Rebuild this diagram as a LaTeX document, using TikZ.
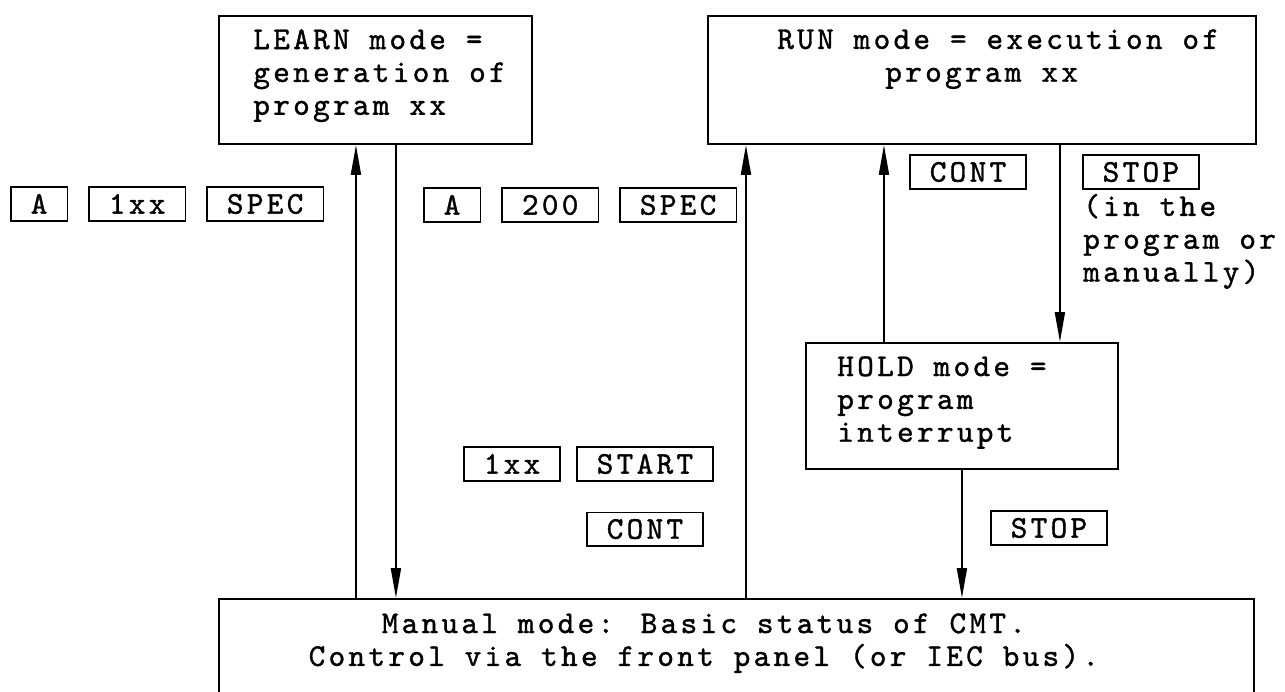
\documentclass[tikz,border=0pt]{standalone}
\usepackage{fontspec}
\newfontfamily\typefont{lmmono10-regular.otf}[FakeBold=1.2,LetterSpace=10.5]
\usetikzlibrary{arrows.meta,positioning}
\begin{document}
\begin{tikzpicture}[
  x=0.02cm, y=-0.02cm,
  font={\typefont\fontsize{18pt}{18.7pt}\selectfont},
  node distance=0.4cm,
  mbox/.style = {draw, line width=1.1pt, anchor=north west, inner sep=0pt},
  key/.style  = {draw, line width=0.9pt, minimum height=0.67cm,
                 inner xsep=0.4cm, inner ysep=0pt,
                 text height=11pt, text depth=0pt},
  txt/.style  = {inner sep=0pt, align=left},
  arr/.style  = {-{Triangle[length=0.6cm,width=0.2cm]}, line width=1.1pt}
]
\useasboundingbox (0,0) rectangle (1285,691);
\clip (0,0) rectangle (1285,691);
%% -- Mode boxes --
\node[mbox, minimum width=6.26cm, minimum height=2.56cm]  (learn) at (218,15)  {};
\node[mbox, minimum width=10.96cm, minimum height=2.56cm] (run)   at (707,15)  {};
\node[mbox, minimum width=6.24cm, minimum height=2.52cm]  (hold)  at (805,342) {};
\node[mbox, minimum width=20.7cm, minimum height=3.6cm]   (man)   at (218,598) {};
%% -- Box texts --
\node[txt, below right=0.28cm and 0.7cm of learn.north west] (lrntxt)
  {LEARN mode =\\generation of\\program xx};
\node[txt, below right=0.28cm and 1.4cm of run.north west] (runtxt)
  {RUN mode = execution of\\\hspace*{2.16cm}program xx};
\node[txt, below right=0.28cm and 0.64cm of hold.north west] (holdtxt)
  {HOLD mode =\\program\\interrupt};
\node[txt, align=center, below=0.3cm of man.north, xshift=-0.65cm] (mantxt)
  {Manual mode: Basic status of CMT.\\Control via the front panel (or IEC bus).};
%% -- Keys: learn --
\node[key, anchor=west] (la) at (10,204) {A};
\node[key, right=of la]  (lnum)  {1xx};
\node[key, right=of lnum] (lspec) {SPEC};
%% -- Keys: run --
\node[key, anchor=west] (ra) at (423,205) {A};
\node[key, right=of ra]   (rnum)  {200};
\node[key, right=of rnum] (rspec) {SPEC};
%% -- Keys: start / cont --
\node[key, anchor=west] (snum) at (463,464) {1xx};
\node[key, right=0.3cm of snum]  (start) {START};
\node[key, below=0.6cm of start] (conta) {CONT};
%% -- Keys: hold --
\node[key, anchor=west] (contb) at (909,172) {CONT};
\node[key, right=1.1cm of contb] (stopa) {STOP};
\node[txt, below right=0.08cm and 0.02cm of stopa.south west] (stopnote)
  {(in the\\program or\\manually)};
\node[key, anchor=west] (stopb) at (990,528) {STOP};
%% -- Flow --
\coordinate (lup) at ([xshift=-0.39cm]learn.south);
\coordinate (ldn) at ([xshift=0.41cm]learn.south);
\coordinate (rup) at ([xshift=-4.72cm]run.south);
\coordinate (cup) at ([xshift=-1.56cm]hold.north);
\coordinate (sdn) at ([xshift=1.96cm]hold.north);
\draw[arr] (lup |- man.north) -- (lup);
\draw[arr] (ldn) -- (ldn |- man.north);
\draw[arr] (rup |- man.north) -- (rup);
\draw[arr] (cup) -- (cup |- run.south);
\draw[arr] (sdn |- run.south) -- (sdn);
\draw[arr] (hold.south) -- (hold.south |- man.north);
\end{tikzpicture}
\end{document}
